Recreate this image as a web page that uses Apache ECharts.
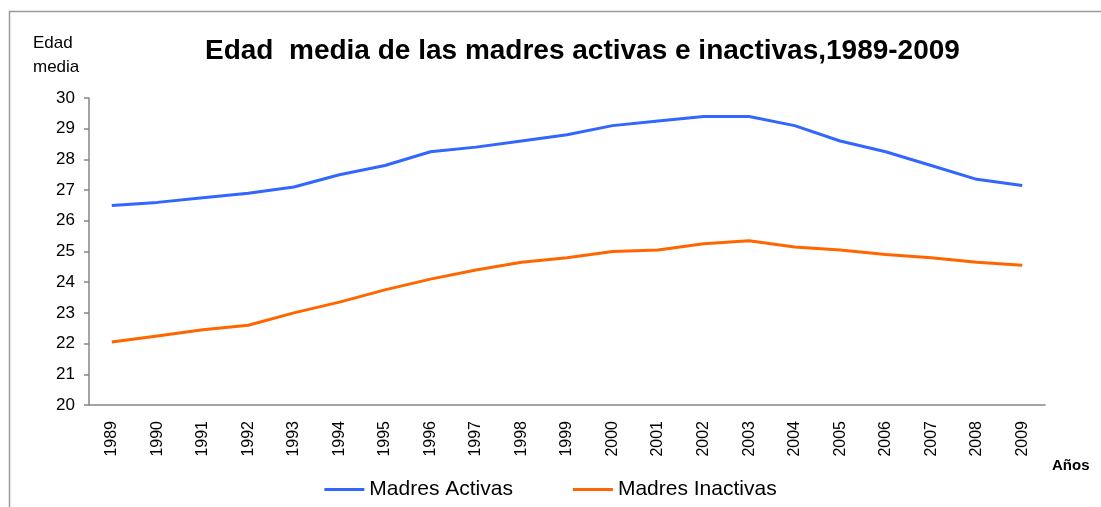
<!DOCTYPE html>
<html>
<head>
<meta charset="utf-8">
<script src="https://cdn.jsdelivr.net/npm/echarts@6/dist/echarts.min.js"></script>
<style>
  html, body { margin: 0; padding: 0; background: #fff; }
  #chart { width: 1101px; height: 507px; }
</style>
</head>
<body>
<div id="chart"></div>
<script>
// datos
const years = ['1989','1990','1991','1992','1993','1994','1995','1996','1997','1998','1999',
  '2000','2001','2002','2003','2004','2005','2006','2007','2008','2009']
const activas = [26.5, 26.6, 26.75, 26.9, 27.1, 27.5, 27.8, 28.25, 28.4, 28.6, 28.8,
  29.1, 29.25, 29.4, 29.4, 29.1, 28.6, 28.25, 27.8, 27.35, 27.15]
const inactivas = [22.05, 22.25, 22.45, 22.6, 23.0, 23.35, 23.75, 24.1, 24.4, 24.65, 24.8,
  25.0, 25.05, 25.25, 25.35, 25.15, 25.05, 24.9, 24.8, 24.65, 24.55]
const seriesNames = ['Madres Activas', 'Madres Inactivas']

const font = 'Liberation Sans, Arial, sans-serif'
const axisGrey = '#868686'

const chart = echarts.init(document.getElementById('chart'))
chart.setOption({
  animation: false,
  title: {
    text: 'Edad  media de las madres activas e inactivas,1989-2009',
    left: 200,
    top: 32,
    textStyle: { fontFamily: font, fontSize: 28, fontWeight: 'bold', color: '#000' }
  },
  graphic: [
    // marco del grafico (cortado a la derecha y abajo)
    { type: 'rect', shape: { x: 9.5, y: 11.5, width: 1300, height: 700 },
      style: { fill: 'none', stroke: '#9a9a9a', lineWidth: 1.5 }, silent: true },
    { type: 'text', left: 33, top: 31,
      style: { text: 'Edad\nmedia', font: '17px ' + font, fill: '#000', lineHeight: 24 } },
    { type: 'text', left: 1052, top: 458,
      style: { text: 'Años', font: 'bold 15px ' + font, fill: '#000' } }
  ],
  legend: {
    data: seriesNames,
    bottom: 2,
    left: 'center',
    icon: 'rect',
    itemWidth: 40,
    itemHeight: 3,
    itemGap: 60,
    textStyle: { fontFamily: font, fontSize: 21, color: '#000' }
  },
  grid: { left: 89, right: 56, top: 98, bottom: 102 },
  xAxis: {
    type: 'category',
    data: years,
    boundaryGap: true,
    axisLine: { lineStyle: { color: axisGrey, width: 1.5 } },
    axisTick: { alignWithLabel: false, length: 5, lineStyle: { color: axisGrey, width: 1.5 } },
    axisLabel: { rotate: 90, margin: 16, interval: 0, fontFamily: font, fontSize: 16, color: '#000' }
  },
  yAxis: {
    type: 'value',
    min: 20,
    max: 30,
    interval: 1,
    splitLine: { show: false },
    axisLine: { show: true, lineStyle: { color: axisGrey, width: 1.5 } },
    axisTick: { show: true, length: 5, lineStyle: { color: axisGrey, width: 1.5 } },
    axisLabel: { margin: 14, fontFamily: font, fontSize: 17, color: '#000' }
  },
  series: [
    {
      name: seriesNames[0],
      type: 'line',
      data: activas,
      showSymbol: false,
      color: '#3366ff',
      lineStyle: { width: 3, color: '#3366ff' }
    },
    {
      name: seriesNames[1],
      type: 'line',
      data: inactivas,
      showSymbol: false,
      color: '#ff6600',
      lineStyle: { width: 3, color: '#ff6600' }
    }
  ]
})
</script>
</body>
</html>
